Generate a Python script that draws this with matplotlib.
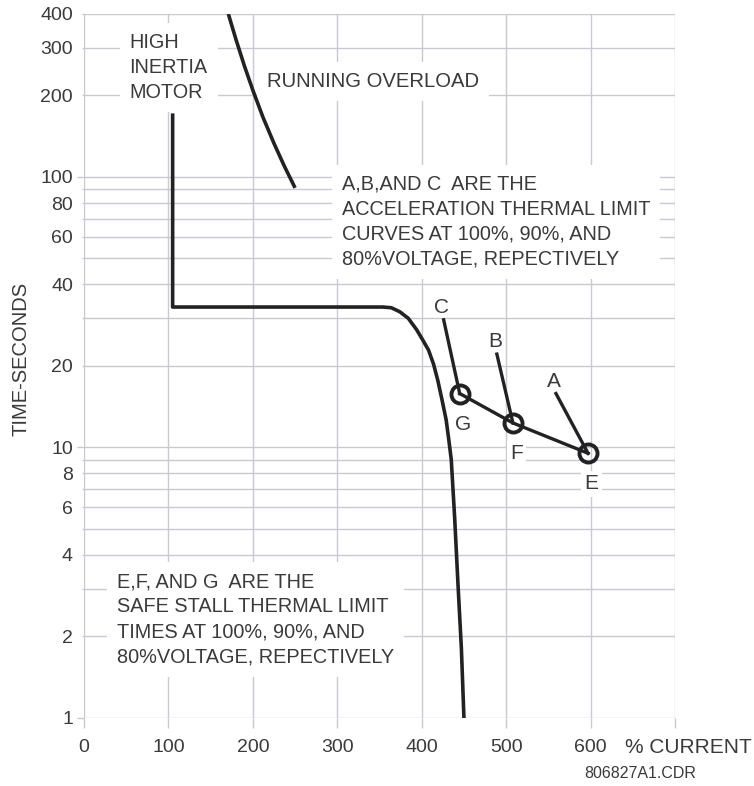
import numpy as np
import matplotlib.pyplot as plt
from matplotlib.ticker import FixedLocator, FixedFormatter

# ---- data ----
running_x = [171, 180, 190, 200, 212, 225, 237, 250]
running_y = [400, 322, 257, 209, 166, 133, 110, 91]

motor_x = [105, 105, 354, 364, 374, 384, 394, 401, 408, 414, 419, 424, 429, 432, 435, 439, 443, 447, 450]
motor_y = [169, 33, 33, 32.8, 31.7, 30.0, 27.2, 25.0, 22.9, 20.3, 17.7, 15.0, 12.6, 10.7, 9.0, 5.5, 3.1, 1.8, 1.0]

# safe stall points E, F, G (100%, 90%, 80% voltage)
stall_names = ['E', 'F', 'G']
stall_x = [597, 508, 445]
stall_y = [9.5, 12.3, 15.8]

# acceleration curve start points A, B, C
accel_names = ['A', 'B', 'C']
accel_x = [559, 489, 426]
accel_y = [15.8, 22.1, 29.6]

x_ticks = [0, 100, 200, 300, 400, 500, 600, 700]
x_labels = ['0', '100', '200', '300', '400', '500', '600', '']
y_major = [1, 10, 100]
y_major_labels = ['1', '10', '100']
y_minor = [2, 3, 4, 5, 6, 7, 8, 9, 20, 30, 40, 50, 60, 70, 80, 90, 200, 300, 400]
y_minor_labels = ['2', '', '4', '', '6', '', '8', '', '20', '', '40', '', '60', '',
                  '80', '', '200', '300', '400']

plt.rcParams['font.family'] = ['Liberation Sans', 'DejaVu Sans']
txt_col = '#3a3a3a'
grid_col = '#c9c9d6'
ink = '#222222'

fig = plt.figure(figsize=(7.54, 7.86), dpi=100)
ax = fig.add_axes([84 / 754, 1 - 717.7 / 786, (675 - 84) / 754, (717.7 - 14) / 786])

ax.set_yscale('log')
ax.set_xlim(0, 700)
ax.set_ylim(1, 400)
for s in ax.spines.values():
    s.set_visible(False)

ax.set_xticks(x_ticks)
ax.set_xticklabels(x_labels)
ax.yaxis.set_major_locator(FixedLocator(y_major))
ax.yaxis.set_major_formatter(FixedFormatter(y_major_labels))
ax.yaxis.set_minor_locator(FixedLocator(y_minor))
ax.yaxis.set_minor_formatter(FixedFormatter(y_minor_labels))

ax.tick_params(axis='x', length=7, width=1, color=grid_col, pad=8,
               labelsize=14, labelcolor=txt_col)
ax.tick_params(axis='y', which='major', length=5, width=1, color=grid_col, pad=3,
               labelsize=14, labelcolor=txt_col)
ax.tick_params(axis='y', which='minor', length=1.5, width=1, color=grid_col, pad=6.5,
               labelsize=14, labelcolor=txt_col)

ax.set_axisbelow(True)
ax.grid(True, which='both', color=grid_col, lw=1.0)

# curves
ax.plot(running_x, running_y, color=ink, lw=2.6, solid_capstyle='butt', zorder=3)
ax.plot(motor_x, motor_y, color=ink, lw=2.6, solid_joinstyle='round', zorder=3)
ax.plot(stall_x, stall_y, color=ink, lw=2.4, zorder=3)
for i in range(3):
    ax.plot([accel_x[i], stall_x[i]], [accel_y[i], stall_y[i]], color=ink, lw=2.4, zorder=3)
ax.plot(stall_x, stall_y, 'o', ms=13, mfc='none', mec=ink, mew=2.8, zorder=4)

# point labels
for i in range(3):
    ax.text(accel_x[i] - 2, accel_y[i] * 1.11, accel_names[i], ha='center', va='center',
            fontsize=15, color=txt_col, zorder=5)
    ax.text(stall_x[i] + 4, stall_y[i] * 0.77, stall_names[i], ha='center', va='center',
            fontsize=15, color=txt_col, zorder=5,
            bbox=dict(boxstyle='square,pad=0.15', fc='white', ec='none'))

box = dict(boxstyle='square,pad=0.5', fc='white', ec='none')
ax.text(54, 340, 'HIGH\nINERTIA\nMOTOR', ha='left', va='top', fontsize=14.3,
        color=txt_col, linespacing=1.41, zorder=2, bbox=box)
ax.text(217, 225, 'RUNNING OVERLOAD', ha='left', va='center', fontsize=14.6,
        color=txt_col, zorder=2, bbox=box)
ax.text(305, 102, 'A,B,AND C  ARE THE\nACCELERATION THERMAL LIMIT\n'
        'CURVES AT 100%, 90%, AND\n80%VOLTAGE, REPECTIVELY',
        ha='left', va='top', fontsize=14.3, color=txt_col, linespacing=1.41,
        zorder=2, bbox=box)
ax.text(39, 3.45, 'E,F, AND G  ARE THE\nSAFE STALL THERMAL LIMIT\n'
        'TIMES AT 100%, 90%, AND\n80%VOLTAGE, REPECTIVELY',
        ha='left', va='top', fontsize=14.3, color=txt_col, linespacing=1.41,
        zorder=2, bbox=box)

ax.set_ylabel('TIME-SECONDS', fontsize=14.5, color=txt_col)
ax.yaxis.set_label_coords(-0.09, 0.51)
ax.text(641, -0.029, '% CURRENT', transform=ax.get_xaxis_transform(),
        ha='left', va='top', fontsize=15, color=txt_col)
fig.text(640 / 754, 1 - 773 / 786, '806827A1.CDR', ha='center', va='center',
         fontsize=11.5, color=txt_col)

plt.savefig('out.png', dpi=100)
